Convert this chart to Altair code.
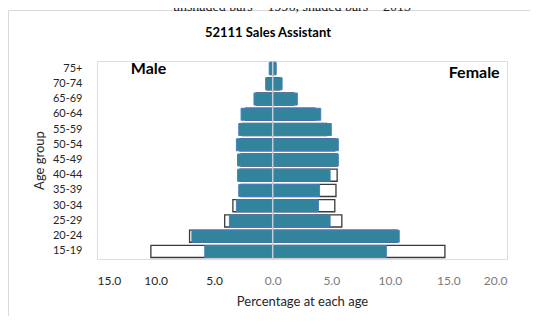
import altair as alt
import pandas as pd

ages = ["75+", "70-74", "65-69", "60-64", "55-59", "50-54", "45-49",
        "40-44", "35-39", "30-34", "25-29", "20-24", "15-19"]
male_2013 = [0.3, 0.6, 1.6, 2.7, 2.9, 3.1, 3.0, 3.0, 2.9, 3.1, 3.7, 6.9, 5.8]
male_1996 = [0.2, 0.5, 1.4, 2.3, 2.6, 2.8, 2.7, 2.8, 2.7, 3.4, 4.1, 7.1, 10.4]
female_2013 = [0.3, 0.8, 2.1, 4.1, 5.0, 5.6, 5.6, 4.9, 4.0, 3.9, 4.9, 10.8, 9.7]
female_1996 = [0.2, 0.6, 1.8, 3.6, 4.6, 5.3, 5.5, 5.5, 5.4, 5.3, 5.9, 10.6, 14.7]
tick_values = [-15, -10, -5, 0, 5, 10, 15, 20]

FONT = "Lato"

rows = []
for i, a in enumerate(ages):
    rows.append({"age": a, "year": "1996", "sex": "Male", "value": -male_1996[i]})
    rows.append({"age": a, "year": "1996", "sex": "Female", "value": female_1996[i]})
    rows.append({"age": a, "year": "2013", "sex": "Male", "value": -male_2013[i]})
    rows.append({"age": a, "year": "2013", "sex": "Female", "value": female_2013[i]})
df = pd.DataFrame(rows)
df96 = df[df.year == "1996"]
df13 = df[df.year == "2013"]

x_scale = alt.Scale(domain=[-15, 20], nice=False, zero=False)
y_scale = alt.Scale(domain=ages, paddingInner=0.21, paddingOuter=0.1)

x_axis = alt.Axis(
    values=tick_values,
    labelExpr="format(abs(datum.value), '.1f')",
    labelColor=alt.condition("datum.value < 0", alt.value("#262626"), alt.value("#7a7a7a")),
    grid=False, domain=False, ticks=False,
    labelPadding=16, labelFontSize=12, labelFont=FONT, labelFontWeight="normal",
    title="Percentage at each age", titleFont=FONT, titleFontSize=13,
    titleFontWeight="normal", titleColor="#262626", titlePadding=9,
)
y_axis = alt.Axis(
    grid=False, domain=False, ticks=False,
    labelPadding=15, labelFontSize=11, labelFont=FONT, labelColor="#262626",
    title="Age group", titleFont=FONT, titleFontSize=13, titleFontWeight="normal",
    titleColor="#262626", titleX=-58, titleY=99, titleAngle=270,
    titleAlign="center", titleBaseline="middle",
)


def xenc(field):
    return alt.X(field, scale=x_scale, axis=x_axis, stack=None)


def yenc():
    return alt.Y("age:N", scale=y_scale, axis=y_axis, sort=ages)


one = pd.DataFrame({"t": [""]})

border = alt.Chart(one).mark_rect(fill=None, stroke="#D9D9D9", strokeWidth=1).encode(
    x=alt.value(-88.5), x2=alt.value(480), y=alt.value(-50.5), y2=alt.value(300)
)

caption = alt.Chart(pd.DataFrame({"t": ["unshaded bars = 1996, shaded bars = 2013"]})).mark_text(
    font="Liberation Serif", fontSize=14, color="#1a1a1a", align="center", baseline="alphabetic"
).encode(text="t:N", x=alt.value(195), y=alt.value(-50))

title = alt.Chart(pd.DataFrame({"t": ["52111 Sales Assistant"]})).mark_text(
    font=FONT, fontSize=13, fontWeight="bold", color="#000000", align="center", baseline="middle"
).encode(text="t:N", x=alt.value(171), y=alt.value(-28))

bars96 = alt.Chart(df96).mark_bar(fill="white", stroke="#3a3a3a", strokeWidth=1.3).encode(
    x=xenc("value:Q"), y=yenc()
)
bars13 = alt.Chart(df13).mark_bar(fill="#31849B", stroke="#4A7EBB", strokeWidth=1).encode(
    x=xenc("value:Q"), y=yenc()
)

zero = alt.Chart(pd.DataFrame({"v": [0]})).mark_rule(color="#C4CCD8", strokeWidth=1.5).encode(
    x=xenc("v:Q")
)

sex_labels = pd.DataFrame({"x": [-10.6, 17.2], "age": ["75+", "75+"], "label": ["Male", "Female"]})
male_lbl = alt.Chart(sex_labels[sex_labels.label == "Male"]).mark_text(
    font=FONT, fontSize=16, fontWeight="bold", color="#000000", align="center", baseline="middle"
).encode(x=xenc("x:Q"), y=yenc(), text="label:N")
female_lbl = alt.Chart(sex_labels[sex_labels.label == "Female"]).mark_text(
    font=FONT, fontSize=16, fontWeight="bold", color="#000000", align="center", baseline="middle", dy=4
).encode(x=xenc("x:Q"), y=yenc(), text="label:N")

chart = alt.layer(border, caption, title, bars96, bars13, zero, male_lbl, female_lbl).properties(
    width=410, height=198,
    autosize=alt.AutoSizeParams(type="none"),
    padding={"left": 89, "top": 53, "right": 23, "bottom": 57},
).configure_view(stroke=None).configure(background="white")

chart.save("out.html", embed_options={"renderer": "svg", "actions": False})
